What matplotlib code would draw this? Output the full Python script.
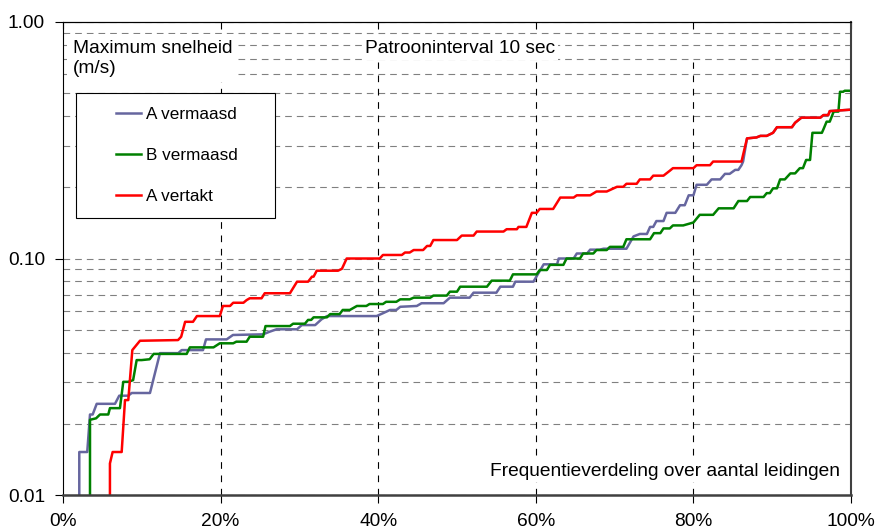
import matplotlib
matplotlib.use("Agg")
import matplotlib.pyplot as plt
from matplotlib.patches import Rectangle
from matplotlib.ticker import FixedLocator, FuncFormatter, LogLocator, NullFormatter

plt.rcParams['font.family'] = ['Liberation Sans', 'DejaVu Sans']

# percentage of pipes (x) and maximum velocity in m/s (y)
a_verm_x = [2.07, 2.07, 3.08, 3.43, 3.77, 4.28, 6.6, 7.14, 8.29, 8.72, 11.04, 12.31, 14.63, 15.06,
            17.77, 18.15, 20.77, 21.57, 25.4, 26.2, 27.1, 29.7, 30.3, 32.0, 32.8, 33.5, 39.8, 40.6,
            41.5, 42.3, 42.8, 44.9, 45.5, 48.3, 49.1, 51.6, 52.1, 55.0, 55.5, 57.1, 57.4, 59.7,
            61.0, 62.7, 62.9, 64.8, 65.2, 66.5, 66.9, 68.1, 68.6, 71.5, 72.4, 73.2, 74.1, 74.5,
            74.9, 75.3, 76.2, 76.6, 77.7, 78.3, 78.9, 79.4, 80.0, 80.4, 81.7, 82.3, 83.4, 84.0,
            84.6, 85.3, 85.7, 86.1, 86.3, 86.8, 88.0, 88.5, 89.3, 90.1, 90.6, 92.5, 92.9, 93.7,
            96.1, 96.5, 97.1, 97.3, 100.0]
a_verm_y = [0.01, 0.0152, 0.0152, 0.0219, 0.0219, 0.0243, 0.0243, 0.0263, 0.0263, 0.0270, 0.0270,
            0.0398, 0.0398, 0.0410, 0.0410, 0.0455, 0.0455, 0.0475, 0.0478, 0.0490, 0.0502, 0.0502,
            0.0523, 0.0523, 0.0553, 0.0571, 0.0571, 0.0587, 0.0606, 0.0606, 0.0625, 0.0630, 0.0647,
            0.0647, 0.0683, 0.0683, 0.0717, 0.0717, 0.0760, 0.0760, 0.0798, 0.0798, 0.0945, 0.0945,
            0.100, 0.100, 0.105, 0.105, 0.109, 0.109, 0.110, 0.110, 0.124, 0.127, 0.127, 0.136,
            0.136, 0.144, 0.144, 0.156, 0.156, 0.168, 0.168, 0.185, 0.185, 0.205, 0.205, 0.216,
            0.216, 0.228, 0.228, 0.237, 0.237, 0.248, 0.257, 0.322, 0.325, 0.330, 0.330, 0.340,
            0.359, 0.359, 0.375, 0.394, 0.394, 0.404, 0.404, 0.420, 0.426]

b_verm_x = [3.43, 3.43, 4.2, 4.7, 5.75, 5.96, 7.23, 7.65, 8.29, 8.9, 9.35, 9.98, 11.0, 11.5, 15.7,
            16.1, 19.1, 19.9, 21.6, 22.0, 23.3, 23.7, 25.4, 25.7, 28.8, 29.2, 30.7, 31.1, 31.5,
            31.8, 33.5, 33.9, 35.1, 35.5, 36.4, 37.3, 38.5, 38.9, 40.6, 41.0, 42.3, 42.8, 44.0,
            44.5, 46.6, 47.0, 48.7, 49.1, 50.0, 50.4, 53.8, 54.4, 56.7, 57.1, 60.1, 60.5, 61.4,
            61.8, 63.5, 63.9, 65.6, 66.0, 67.3, 67.7, 69.0, 69.4, 71.1, 71.5, 74.5, 75.0, 75.8,
            76.2, 77.0, 77.4, 78.7, 80.0, 80.8, 82.5, 83.2, 85.1, 85.7, 86.8, 87.2, 88.9, 89.3,
            89.7, 90.1, 90.6, 91.0, 91.6, 92.3, 92.9, 93.5, 93.9, 94.3, 94.8, 95.1, 96.3, 96.5,
            96.9, 97.3, 97.8, 98.4, 98.6, 99.0, 99.2, 100.0]
b_verm_y = [0.01, 0.0208, 0.0211, 0.0219, 0.0219, 0.0233, 0.0233, 0.0301, 0.0301, 0.0306, 0.0372,
            0.0372, 0.0375, 0.0395, 0.0395, 0.0421, 0.0421, 0.0438, 0.0438, 0.0445, 0.0445, 0.0467,
            0.0467, 0.0518, 0.0518, 0.0530, 0.0530, 0.0550, 0.0550, 0.0564, 0.0564, 0.0582, 0.0582,
            0.0606, 0.0606, 0.0630, 0.0630, 0.0642, 0.0642, 0.0656, 0.0656, 0.0672, 0.0672, 0.0683,
            0.0683, 0.0697, 0.0697, 0.0724, 0.0724, 0.0760, 0.0760, 0.0806, 0.0806, 0.0857, 0.0857,
            0.0894, 0.0894, 0.0940, 0.0940, 0.100, 0.100, 0.105, 0.105, 0.1086, 0.1086, 0.112,
            0.112, 0.1206, 0.1206, 0.128, 0.128, 0.134, 0.134, 0.138, 0.138, 0.142, 0.153, 0.153,
            0.163, 0.163, 0.175, 0.175, 0.182, 0.182, 0.189, 0.189, 0.198, 0.198, 0.216, 0.216,
            0.229, 0.229, 0.241, 0.241, 0.261, 0.261, 0.340, 0.340, 0.352, 0.379, 0.379, 0.418,
            0.418, 0.507, 0.507, 0.512, 0.512]

a_vert_x = [5.96, 5.96, 6.3, 7.45, 7.87, 8.29, 8.8, 9.77, 14.6, 15.0, 15.5, 16.5, 17.0, 19.9, 20.3,
            21.2, 21.6, 22.9, 23.3, 23.7, 25.2, 25.6, 28.8, 29.7, 31.1, 31.6, 31.8, 32.2, 34.9,
            35.4, 36.0, 40.2, 40.6, 43.0, 43.4, 44.0, 44.5, 45.7, 46.2, 46.6, 47.0, 50.0, 50.6,
            52.1, 52.5, 55.9, 56.3, 57.6, 57.8, 58.8, 59.5, 60.1, 60.5, 62.2, 63.1, 64.8, 65.2,
            66.9, 67.7, 69.0, 70.3, 71.1, 71.5, 72.8, 73.2, 74.5, 74.9, 76.2, 77.0, 77.4, 80.0,
            80.4, 82.1, 82.5, 86.1, 86.8, 88.0, 88.5, 89.3, 90.1, 90.6, 92.5, 92.9, 93.7, 96.1,
            96.5, 97.1, 97.3, 100.0]
a_vert_y = [0.01, 0.0136, 0.0152, 0.0152, 0.0252, 0.0252, 0.0410, 0.0449, 0.0452, 0.0467, 0.054,
            0.054, 0.0571, 0.0571, 0.0630, 0.0630, 0.0650, 0.0650, 0.0667, 0.0679, 0.0679, 0.0713,
            0.0713, 0.0798, 0.0798, 0.0838, 0.0838, 0.0888, 0.0888, 0.0905, 0.100, 0.100, 0.1035,
            0.1035, 0.106, 0.106, 0.1086, 0.1086, 0.113, 0.113, 0.1197, 0.1197, 0.125, 0.125, 0.130,
            0.130, 0.133, 0.133, 0.136, 0.136, 0.156, 0.156, 0.162, 0.162, 0.181, 0.181, 0.185,
            0.185, 0.192, 0.192, 0.201, 0.201, 0.207, 0.207, 0.216, 0.216, 0.224, 0.224, 0.235,
            0.241, 0.241, 0.248, 0.248, 0.257, 0.257, 0.322, 0.325, 0.330, 0.330, 0.340, 0.359,
            0.359, 0.375, 0.394, 0.394, 0.404, 0.404, 0.420, 0.426]

series_names = ["A vermaasd", "B vermaasd", "A vertakt"]
series_colors = ["#66669F", "#008000", "#FF0000"]
x_ticks = [0, 20, 40, 60, 80, 100]
y_ticks = [0.01, 0.1, 1.0]
y_ticklabels = ["0.01", "0.10", "1.00"]

fig = plt.figure(figsize=(8.77, 5.30), dpi=100)
ax = fig.add_axes([0.0718, 0.066, 0.8986, 0.8925])

lines = []
for xs, ys, name, col in zip([a_verm_x, b_verm_x, a_vert_x], [a_verm_y, b_verm_y, a_vert_y],
                             series_names, series_colors):
    ln, = ax.plot(xs, ys, color=col, lw=1.8, label=name, zorder=2)
    lines.append(ln)

ax.set_yscale("log")
ax.set_ylim(0.01, 1.0)
ax.set_xlim(0, 100)

ax.yaxis.set_major_locator(FixedLocator(y_ticks))
ax.yaxis.set_major_formatter(FuncFormatter(lambda v, p: y_ticklabels[y_ticks.index(min(y_ticks, key=lambda t: abs(t - v)))]))
ax.yaxis.set_minor_locator(LogLocator(base=10, subs=range(2, 10)))
ax.yaxis.set_minor_formatter(NullFormatter())
ax.xaxis.set_major_locator(FixedLocator(x_ticks))
ax.xaxis.set_major_formatter(FuncFormatter(lambda v, p: "%d%%" % v))

ax.tick_params(axis="y", which="major", length=6, width=0.8, pad=7, labelsize=13.8)
ax.tick_params(axis="y", which="minor", length=0)
ax.tick_params(axis="x", which="major", length=6, width=0.8, pad=7, labelsize=13.8)

# horizontal gridlines gray dashed, vertical black dashed
ax.yaxis.grid(True, which="both", color="#808080", linestyle=(0, (6, 4.5)), lw=0.8, zorder=0)
ax.set_axisbelow(True)
ax.vlines([20, 40, 60, 80], 0.01, 0.678, colors="black", linestyles=(0, (6, 6)), lw=0.8, zorder=1)

sec = ax.secondary_xaxis("top")
sec.set_xticks(x_ticks)
sec.tick_params(direction="in", length=5, width=0.8, labeltop=False)
sec.spines["top"].set_linewidth(0.8)

ax.spines["left"].set_linewidth(0.8)
ax.spines["top"].set_linewidth(0.8)
ax.spines["right"].set_color("#404040")
ax.spines["right"].set_linewidth(1.5)
ax.spines["bottom"].set_color("#404040")
ax.spines["bottom"].set_linewidth(1.8)

# legend box
ax.add_patch(Rectangle((0.0165, 0.5856), 0.2525, 0.2644, transform=ax.transAxes,
                       facecolor="white", edgecolor="black", lw=0.8, zorder=3))
ax.legend(handles=lines, loc="center", bbox_to_anchor=(0.1445, 0.7178), frameon=False,
          fontsize=12.3, labelspacing=1.55, handlelength=1.5, handletextpad=0.3)

ax.text(0.0127, 0.962, "Maximum snelheid\n(m/s)", transform=ax.transAxes, ha="left", va="top",
        fontsize=13.8, bbox=dict(facecolor="white", edgecolor="none", pad=4), zorder=4)
ax.text(0.504, 0.943, "Patrooninterval 10 sec", transform=ax.transAxes, ha="center", va="center",
        fontsize=13.8, bbox=dict(facecolor="white", edgecolor="none", pad=2), zorder=4)
ax.text(0.986, 0.0408, "Frequentieverdeling over aantal leidingen", transform=ax.transAxes,
        ha="right", va="baseline", fontsize=13.8,
        bbox=dict(facecolor="white", edgecolor="none", pad=2), zorder=4)

fig.savefig("out.png", dpi=100)
